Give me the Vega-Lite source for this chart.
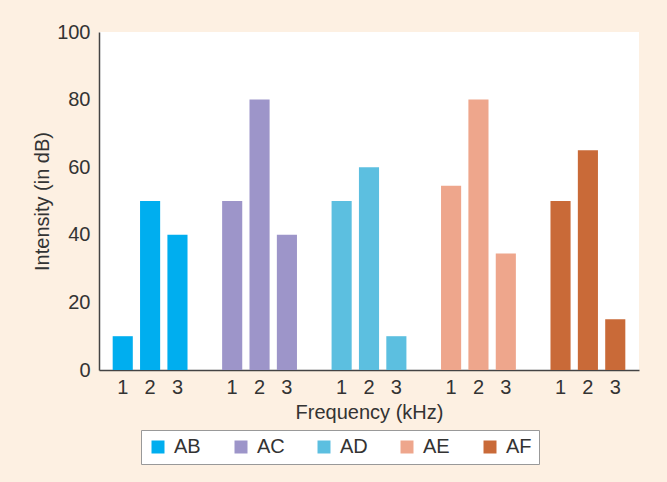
{
  "$schema": "https://vega.github.io/schema/vega-lite/v6.json",
  "autosize": {"type": "none"},
  "width": 540,
  "height": 338,
  "padding": {"left": 99, "top": 32, "right": 28, "bottom": 112},
  "background": "#fdf0e2",
  "config": {"view": {"fill": "white", "stroke": null}, "font": "Liberation Sans"},
  "data": {"values": [
    {"bar": "AB1", "series": "AB", "freq": "1", "intensity": 10},
    {"bar": "AB2", "series": "AB", "freq": "2", "intensity": 50},
    {"bar": "AB3", "series": "AB", "freq": "3", "intensity": 40},
    {"bar": "AC1", "series": "AC", "freq": "1", "intensity": 50},
    {"bar": "AC2", "series": "AC", "freq": "2", "intensity": 80},
    {"bar": "AC3", "series": "AC", "freq": "3", "intensity": 40},
    {"bar": "AD1", "series": "AD", "freq": "1", "intensity": 50},
    {"bar": "AD2", "series": "AD", "freq": "2", "intensity": 60},
    {"bar": "AD3", "series": "AD", "freq": "3", "intensity": 10},
    {"bar": "AE1", "series": "AE", "freq": "1", "intensity": 54.5},
    {"bar": "AE2", "series": "AE", "freq": "2", "intensity": 80},
    {"bar": "AE3", "series": "AE", "freq": "3", "intensity": 34.5},
    {"bar": "AF1", "series": "AF", "freq": "1", "intensity": 50},
    {"bar": "AF2", "series": "AF", "freq": "2", "intensity": 65},
    {"bar": "AF3", "series": "AF", "freq": "3", "intensity": 15}
  ]},
  "mark": {"type": "bar"},
  "encoding": {
    "x": {
      "field": "bar",
      "type": "nominal",
      "sort": null,
      "scale": {
        "domain": ["AB1", "AB2", "AB3", "gap1", "AC1", "AC2", "AC3", "gap2", "AD1", "AD2", "AD3", "gap3", "AE1", "AE2", "AE3", "gap4", "AF1", "AF2", "AF3"],
        "paddingInner": 0.265,
        "paddingOuter": 0.5
      },
      "axis": {
        "title": "Frequency (kHz)",
        "labelExpr": "indexof(datum.value, 'gap') == 0 ? '' : substring(datum.value, 2)",
        "labelAngle": 0,
        "ticks": false,
        "labelPadding": 7,
        "labelFontSize": 20,
        "labelColor": "#333333",
        "titleFontSize": 20,
        "titleFontWeight": "normal",
        "titleColor": "#333333",
        "titlePadding": 5,
        "domainColor": "#444444",
        "domainWidth": 1.5
      }
    },
    "y": {
      "field": "intensity",
      "type": "quantitative",
      "scale": {"domain": [0, 100]},
      "axis": {
        "title": "Intensity (in dB)",
        "values": [0, 20, 40, 60, 80, 100],
        "grid": false,
        "ticks": false,
        "labelPadding": 9,
        "labelFontSize": 20,
        "labelColor": "#333333",
        "titleFontSize": 20,
        "titleFontWeight": "normal",
        "titleColor": "#333333",
        "titlePadding": 4,
        "domainColor": "#444444",
        "domainWidth": 1.5
      }
    },
    "color": {
      "field": "series",
      "type": "nominal",
      "scale": {
        "domain": ["AB", "AC", "AD", "AE", "AF"],
        "range": ["#00aeef", "#9d95c9", "#5cbfe0", "#eea68c", "#c96a38"]
      },
      "legend": {
        "orient": "none",
        "legendX": 42,
        "legendY": 398,
        "direction": "horizontal",
        "columns": 5,
        "title": null,
        "symbolType": "square",
        "symbolSize": 169,
        "symbolStrokeWidth": 0,
        "symbolOpacity": 1,
        "labelFontSize": 20,
        "labelColor": "#333333",
        "labelOffset": 6,
        "columnPadding": 29,
        "gridAlign": "all",
        "padding": 7,
        "fillColor": "white",
        "strokeColor": "#999999"
      }
    }
  }
}
